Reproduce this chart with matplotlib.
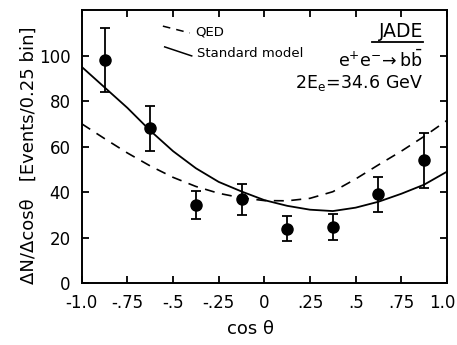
import matplotlib
matplotlib.use("Agg")
import matplotlib.pyplot as plt
import matplotlib.transforms as mtrans

# measured points (bin centres) with errors
cos_bins = [-0.875, -0.625, -0.375, -0.125, 0.125, 0.375, 0.625, 0.875]
events = [98, 68, 34.5, 36.8, 24, 24.5, 39.4, 54]
err_lo = [14, 10, 6.3, 7, 5.4, 5.5, 7.9, 12.3]
err_hi = [14, 10, 6, 6.6, 5.5, 5.7, 7.3, 12.2]

# curves
curve_x = [-1.0, -0.875, -0.75, -0.625, -0.5, -0.375, -0.25, -0.125, 0.0,
           0.125, 0.25, 0.375, 0.5, 0.625, 0.75, 0.875, 1.0]
qed = [70, 63.5, 57.2, 51.5, 46.5, 42.5, 39.5, 37.5, 36.3,
       36.2, 37.3, 40.2, 45.8, 52, 58, 64.5, 71.5]
standard_model = [95, 86, 77, 67, 58, 50.5, 44.5, 40.3, 36.5,
                  34, 32.3, 31.7, 33.2, 35.8, 39.3, 43.3, 49]

xticks = [-1.0, -0.75, -0.5, -0.25, 0, 0.25, 0.5, 0.75, 1.0]
xtick_labels = ["-1.0", "-.75", "-.5", "-.25", "0", ".25", ".5", ".75", "1.0"]
yticks = [0, 20, 40, 60, 80, 100]

plt.rcParams['font.family'] = ['DejaVu Sans']
plt.rcParams['mathtext.default'] = 'regular'

fig = plt.figure(figsize=(4.57, 3.45), dpi=100)
ax = fig.add_axes([0.179, 0.179, 0.799, 0.792])

dash = (0, (6, 4.5))
ax.plot(curve_x, qed, color='black', lw=1.2, linestyle=dash)
ax.plot(curve_x, standard_model, color='black', lw=1.3)
ax.errorbar(cos_bins, events, yerr=[err_lo, err_hi], fmt='o', color='black',
            markersize=8, elinewidth=1.3, capsize=3.5, capthick=1.3)

ax.set_xlim(-1, 1)
ax.set_ylim(0, 120)
ax.set_xticks(xticks)
ax.set_xticklabels(xtick_labels)
ax.set_yticks(yticks)
ax.tick_params(direction='in', length=5, width=1.3, top=True, right=True,
               labelsize=12, pad=8)
for s in ax.spines.values():
    s.set_linewidth(1.4)

# pull the last x label in so it stays inside the figure
last = ax.get_xticklabels()[-1]
last.set_transform(last.get_transform() +
                   mtrans.ScaledTranslation(-5 / 100, 0, fig.dpi_scale_trans))

ax.set_xlabel("cos θ", fontsize=13)
ax.xaxis.set_label_coords(0.463, -0.135)
ax.set_ylabel("ΔN/Δcosθ   [Events/0.25 bin]", fontsize=13)
ax.yaxis.set_label_coords(-0.12, 0.469)

# hand-drawn style legend
ax.plot([0.222, 0.296], [0.941, 0.916], transform=ax.transAxes,
        color='black', lw=1.1, linestyle=(0, (5, 4)))
ax.text(0.31, 0.919, "QED", transform=ax.transAxes, fontsize=9.5, va='center')
ax.plot([0.227, 0.301], [0.865, 0.832], transform=ax.transAxes,
        color='black', lw=1.1)
ax.text(0.315, 0.84, "Standard model", transform=ax.transAxes, fontsize=9.5,
        va='center')

ax.text(0.934, 0.923, "JADE", transform=ax.transAxes, fontsize=13.5,
        ha='right', va='center')
ax.plot([0.795, 0.934], [0.882, 0.882], transform=ax.transAxes,
        color='black', lw=1.3)
ax.text(0.934, 0.817, r"$e^{+}e^{-}\!\rightarrow b\bar{b}$",
        transform=ax.transAxes, fontsize=12.5, ha='right', va='center')
ax.text(0.936, 0.733, r"$2E_{e}\!=\!34.6\ GeV$", transform=ax.transAxes,
        fontsize=12.5, ha='right', va='center')

fig.savefig("out.png", dpi=100)
